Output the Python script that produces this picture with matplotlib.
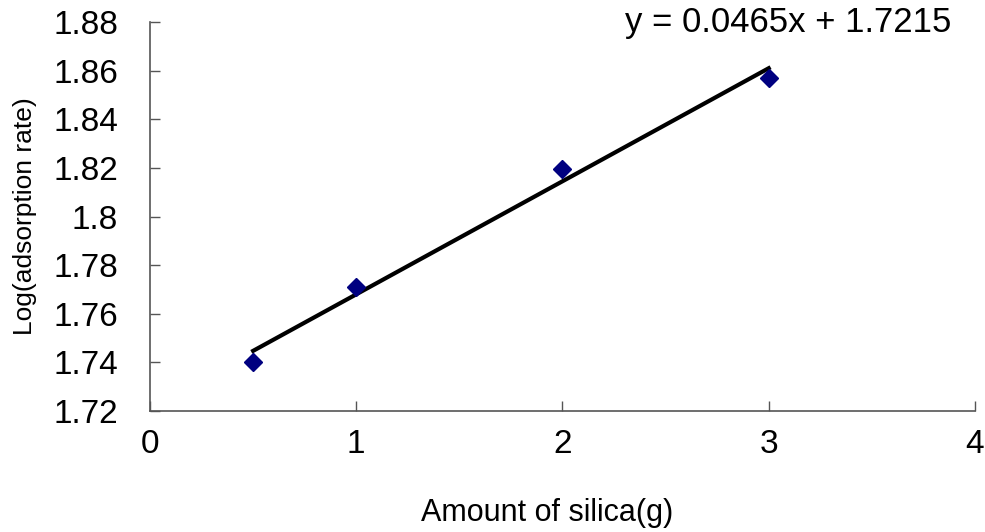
import numpy as np
import matplotlib.pyplot as plt

plt.rcParams['font.family'] = ['Liberation Sans', 'DejaVu Sans']

silica = [0.5, 1, 2, 3]
log_rate = [1.740, 1.771, 1.8195, 1.857]
slope, intercept = 0.0465, 1.7215
x_ticks = [0, 1, 2, 3, 4]
y_ticks = [1.72, 1.74, 1.76, 1.78, 1.80, 1.82, 1.84, 1.86, 1.88]
y_labels = ['1.72', '1.74', '1.76', '1.78', '1.8', '1.82', '1.84', '1.86', '1.88']

fig = plt.figure(figsize=(9.85, 5.32), dpi=100)
ax = fig.add_axes([0.1523, 0.2274, 0.8375, 0.7312])

fit_x = np.array([silica[0], silica[-1]])
ax.plot(fit_x, slope * fit_x + intercept, color='black', lw=3, zorder=2)
ax.plot(silica, log_rate, 'D', color='#000080', markersize=9, zorder=3, clip_on=False)

ax.set_xlim(0, 4)
ax.set_ylim(1.72, 1.88)
ax.set_xticks(x_ticks)
ax.set_yticks(y_ticks)
ax.set_yticklabels(y_labels)
ax.tick_params(direction='in', length=7, width=1, color='#555555', labelsize=24)
ax.tick_params(axis='y', pad=23)
ax.tick_params(axis='x', pad=13)
for s in ['top', 'right']:
    ax.spines[s].set_visible(False)
for s in ['left', 'bottom']:
    ax.spines[s].set_color('#555555')
    ax.spines[s].set_linewidth(1.2)

ax.set_xlabel('Amount of silica(g)', fontsize=22)
ax.xaxis.set_label_coords(0.481, -0.262)
ax.xaxis.label.set_va('center')
ax.set_ylabel('Log(adsorption rate)', fontsize=19, labelpad=12)
ax.text(0.972, 1.0, 'y = 0.0465x + 1.7215', transform=ax.transAxes,
        ha='right', va='center', fontsize=25)

fig.savefig('out.png', dpi=100)
